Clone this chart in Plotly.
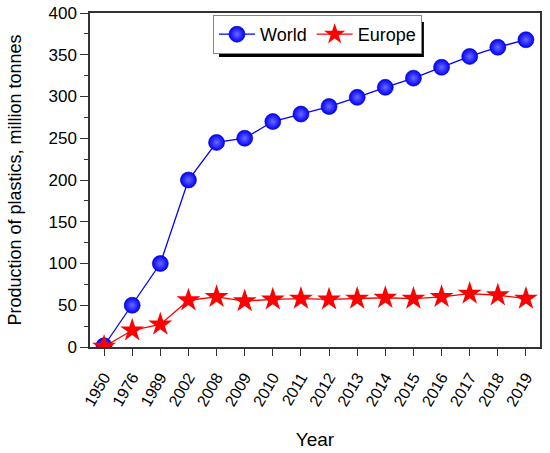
import plotly.graph_objects as go

years = ["1950", "1976", "1989", "2002", "2008", "2009", "2010", "2011", "2012",
         "2013", "2014", "2015", "2016", "2017", "2018", "2019"]
world = [1.5, 50, 100, 200, 245, 250, 270, 279, 288, 299, 311, 322, 335, 348, 359, 368]
europe = [0.35, 20, 27, 56, 60, 55, 57, 58, 57, 58, 59, 58, 60, 64, 62, 58]

FONT = "Liberation Sans, Arial, sans-serif"

fig = go.Figure()
fig.add_trace(go.Scatter(
    x=years, y=world, name="World", mode="lines+markers",
    line=dict(color="#0000ff", width=1.3),
    marker=dict(symbol="circle", size=16, color="#0000ff",
                gradient=dict(type="radial", color="#6a6aff"),
                line=dict(color="#0000b0", width=0.6)),
))
fig.add_trace(go.Scatter(
    x=years, y=europe, name="Europe", mode="lines+markers",
    line=dict(color="#ff0000", width=1.3),
    marker=dict(symbol="star", size=18, color="#ff0000", line=dict(width=0)),
))

# legend shadow
fig.add_shape(type="rect", xref="paper", yref="paper",
              x0=0.2867, x1=0.742, y0=0.868, y1=0.973,
              fillcolor="black", line=dict(width=0), layer="above")

fig.update_layout(
    width=550, height=453,
    margin=dict(l=90, r=10, t=13, b=106, autoexpand=False),
    paper_bgcolor="white", plot_bgcolor="white",
    font=dict(family=FONT, size=17, color="black"),
    showlegend=True,
    legend=dict(orientation="h", x=0.2733, y=0.994, xanchor="left", yanchor="top",
                bgcolor="white", bordercolor="#888888", borderwidth=1,
                font=dict(family=FONT, size=18), itemwidth=36,
                traceorder="normal"),
    xaxis=dict(type="category", range=[-0.5, 15.5], showgrid=False, automargin=False,
               showline=True, linecolor="#333333", linewidth=1.5, mirror=True,
               ticks="outside", ticklen=7, tickwidth=1.2, tickcolor="#333333",
               tickangle=-60, tickfont=dict(size=16), ticklabelstandoff=6,
               title=dict(text="Year", font=dict(size=19), standoff=24)),
    yaxis=dict(range=[0, 400], dtick=50, showgrid=False, zeroline=False, automargin=False,
               showline=True, linecolor="#333333", linewidth=1.5, mirror=True,
               ticks="outside", ticklen=8, tickwidth=1.2, tickcolor="#333333",
               minor=dict(dtick=25, ticks="outside", ticklen=4, tickcolor="#333333"),
               tickfont=dict(size=17),
               title=dict(text="Production of plastics, million tonnes",
                          font=dict(size=18), standoff=22)),
)

fig.write_html("out.html", post_script="document.body.style.margin='0';",
               config={"displayModeBar": False})
